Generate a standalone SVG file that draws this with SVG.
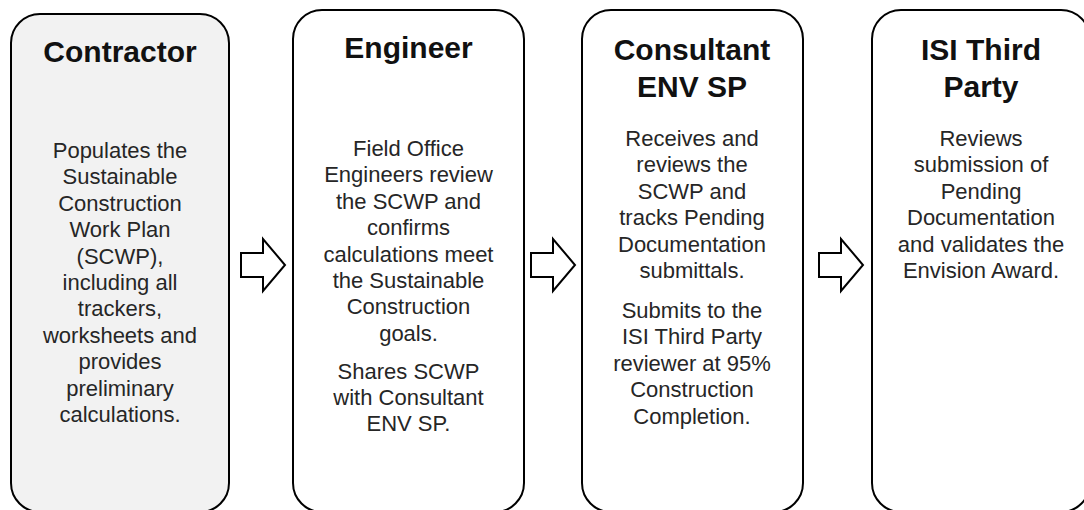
<svg xmlns="http://www.w3.org/2000/svg" width="1084" height="510" viewBox="0 0 1084 510">
<style>
.box{fill:#ffffff;stroke:#000000;stroke-width:2}
.grey{fill:#f2f2f2}
.title{font-family:"Liberation Sans",Arial,sans-serif;font-weight:bold;font-size:30px;fill:#111111;text-anchor:middle}
.body{font-family:"Liberation Sans",Arial,sans-serif;font-size:22px;fill:#262626;text-anchor:middle}
.arrow{fill:#ffffff;stroke:#000000;stroke-width:2;stroke-linejoin:miter}
</style>
<rect width="1084" height="510" fill="#ffffff"/>
<g id="contractor">
<rect class="box grey" x="11" y="14" width="218" height="498" rx="29" ry="29"/>
<text class="title" x="120" y="62">Contractor</text>
<text class="body" x="120" y="158">Populates the</text>
<text class="body" x="120" y="184.4">Sustainable</text>
<text class="body" x="120" y="210.8">Construction</text>
<text class="body" x="120" y="237.2">Work Plan</text>
<text class="body" x="120" y="263.6">(SCWP),</text>
<text class="body" x="120" y="290">including all</text>
<text class="body" x="120" y="316.4">trackers,</text>
<text class="body" x="120" y="342.8">worksheets and</text>
<text class="body" x="120" y="369.2">provides</text>
<text class="body" x="120" y="395.6">preliminary</text>
<text class="body" x="120" y="422">calculations.</text>
</g>
<g id="engineer">
<rect class="box" x="293" y="10" width="231" height="502" rx="29" ry="29"/>
<text class="title" x="408.5" y="58">Engineer</text>
<text class="body" x="408.5" y="156">Field Office</text>
<text class="body" x="408.5" y="182.4">Engineers review</text>
<text class="body" x="408.5" y="208.8">the SCWP and</text>
<text class="body" x="408.5" y="235.2">confirms</text>
<text class="body" x="408.5" y="261.6">calculations meet</text>
<text class="body" x="408.5" y="288">the Sustainable</text>
<text class="body" x="408.5" y="314.4">Construction</text>
<text class="body" x="408.5" y="340.8">goals.</text>
<text class="body" x="408.5" y="378.5">Shares SCWP</text>
<text class="body" x="408.5" y="404.9">with Consultant</text>
<text class="body" x="408.5" y="431.3">ENV SP.</text>
</g>
<g id="consultant">
<rect class="box" x="582" y="10" width="221" height="502" rx="29" ry="29"/>
<text class="title" x="692" y="60">Consultant</text>
<text class="title" x="692" y="97">ENV SP</text>
<text class="body" x="692" y="146">Receives and</text>
<text class="body" x="692" y="172.4">reviews the</text>
<text class="body" x="692" y="198.8">SCWP and</text>
<text class="body" x="692" y="225.2">tracks Pending</text>
<text class="body" x="692" y="251.6">Documentation</text>
<text class="body" x="692" y="278">submittals.</text>
<text class="body" x="692" y="318">Submits to the</text>
<text class="body" x="692" y="344.4">ISI Third Party</text>
<text class="body" x="692" y="370.8">reviewer at 95%</text>
<text class="body" x="692" y="397.2">Construction</text>
<text class="body" x="692" y="423.6">Completion.</text>
</g>
<g id="isi-third-party">
<rect class="box" x="872" y="10" width="218" height="502" rx="29" ry="29"/>
<text class="title" x="981" y="60">ISI Third</text>
<text class="title" x="981" y="97">Party</text>
<text class="body" x="981" y="146">Reviews</text>
<text class="body" x="981" y="172.4">submission of</text>
<text class="body" x="981" y="198.8">Pending</text>
<text class="body" x="981" y="225.2">Documentation</text>
<text class="body" x="981" y="251.6">and validates the</text>
<text class="body" x="981" y="278">Envision Award.</text>
</g>
<g id="connectors">
<polygon class="arrow" points="241,253 263,253 263,239 285,265 263,291 263,277 241,277"/>
<polygon class="arrow" points="531,253 553,253 553,239 575,265 553,291 553,277 531,277"/>
<polygon class="arrow" points="819,253 841,253 841,239 863,265 841,291 841,277 819,277"/>
</g>
</svg>
